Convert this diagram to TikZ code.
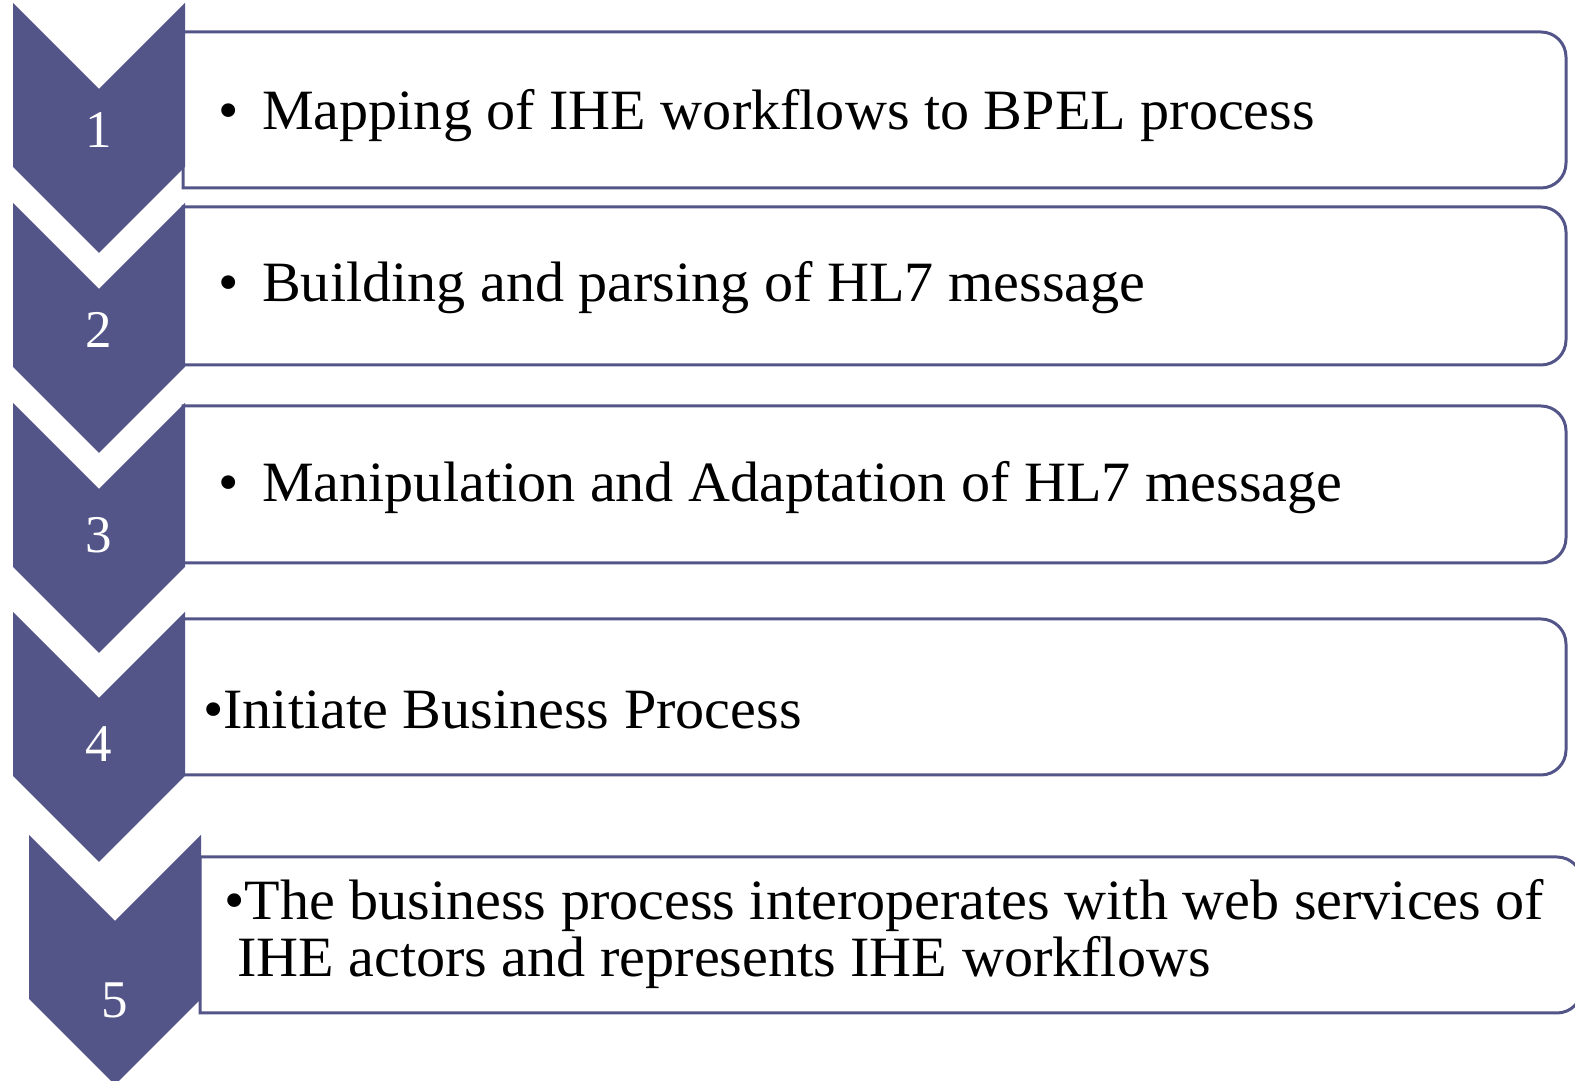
\documentclass[tikz,border=0pt]{standalone}
\usepackage{fontspec}
\setmainfont[FakeStretch=1.02]{Liberation Serif}
\newfontfamily\numfont{Liberation Serif}
\definecolor{chev}{RGB}{83,85,137}
\tikzset{
  boxline/.style={draw=chev, line width=3pt, fill=white},
  chevfill/.style={fill=chev, draw=none},
  numtext/.style={text=white, inner sep=0pt, font=\numfont\fontsize{53}{53}\selectfont},
  steptext/.style={text=black, inner sep=0pt, anchor=base west, font=\fontsize{57}{57}\selectfont},
}
\newcommand\flowbox[4]{%
  \draw[boxline] (#1,#3) -- ({#2-25},#3) arc[start angle=90,end angle=0,radius=25]
    -- (#2,{#4+25}) arc[start angle=0,end angle=-90,radius=25] -- (#1,#4) -- cycle;}
\newcommand\chevshape[2]{%
  \fill[chevfill] (#1,#2) -- ({#1+86},{#2-86}) -- ({#1+172},#2) -- ({#1+172},{#2-164})
    -- ({#1+86},{#2-250}) -- (#1,{#2-164}) -- cycle;}
\begin{document}
\begin{tikzpicture}[x=1pt,y=1pt]
\useasboundingbox (0,0) rectangle (1575,1081);
% boxes
\flowbox{183}{1566}{1049}{893}
\flowbox{183}{1566}{874}{716}
\flowbox{183}{1566}{675}{518}
\flowbox{183}{1566}{462}{306}
\flowbox{200}{1582}{224}{68}
% chevrons
\chevshape{13}{1078}
\chevshape{13}{878}
\chevshape{13}{678}
\chevshape{13}{469}
\chevshape{29}{246}
% numbers
\node[numtext] (n1) at (99,951) {1};
\node[numtext] (n2) at (99,751) {2};
\node[numtext] (n3) at (99,546) {3};
\node[numtext] (n4) at (99,337) {4};
\node[numtext] (n5) at (115,81) {5};
% texts
\node[steptext] (t1) at (218,951) {\makebox[44pt][l]{•}Mapping of IHE workflows to BPEL process};
\node[steptext] (t2) at (218,779) {\makebox[44pt][l]{•}Building and parsing of HL7 message};
\node[steptext] (t3) at (218,579) {\makebox[44pt][l]{•}Manipulation and Adaptation of HL7 message};
\node[steptext] (t4) at (203,352) {•Initiate Business Process};
\node[steptext] (t5a) at (224,161) {•The business process interoperates with web services of};
\node[steptext] (t5b) at (237,104) {IHE actors and represents IHE workflows};
\end{tikzpicture}
\end{document}
